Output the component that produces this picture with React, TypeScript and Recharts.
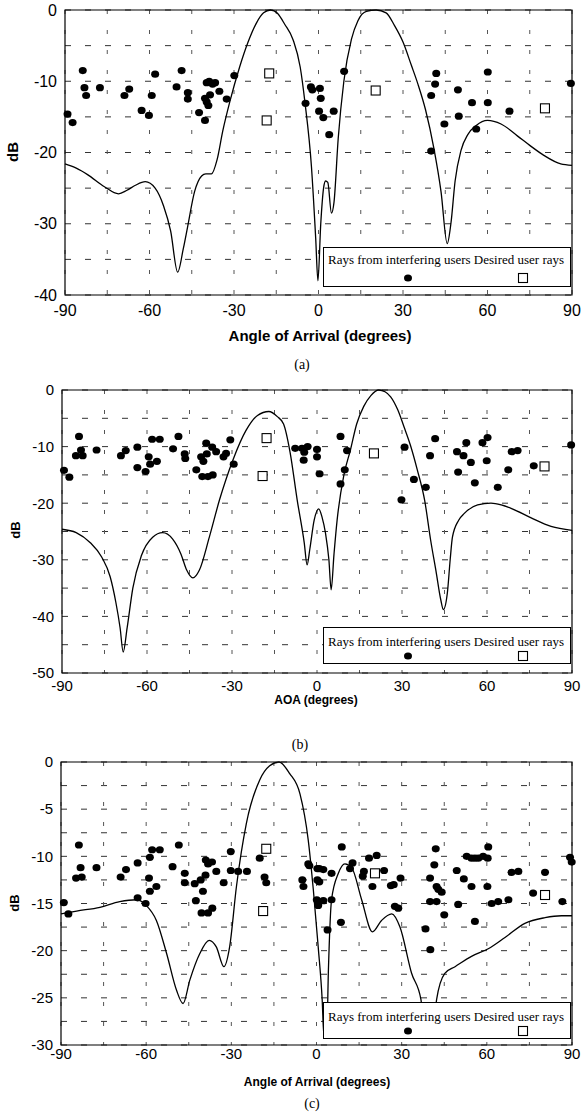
import {
  CartesianGrid,
  ComposedChart,
  Line,
  ReferenceArea,
  Scatter,
  XAxis,
  YAxis,
} from "recharts";

// beam patterns (angle in degrees, gain in dB)
const beamA = [
  [-90, -21.6], [-86, -22.2], [-82, -23.1], [-76, -24.8], [-71, -25.8], [-68, -25.3],
  [-65, -24.6], [-61.5, -24.1], [-58, -25], [-55, -27.5], [-52.5, -31], [-50, -36.8],
  [-48, -33.5], [-46.5, -30.5], [-44, -25.5], [-41.5, -23.3], [-40, -23], [-38, -23],
  [-36, -21], [-34, -17], [-31.5, -12.9], [-28, -8], [-25, -4.5], [-22, -1.8],
  [-19.5, -0.4], [-17, 0], [-14.5, -0.5], [-12, -2], [-9, -4.2], [-6.5, -8],
  [-4.8, -13], [-2.5, -22], [-1, -32], [-0.2, -38], [0.8, -30], [1.8, -25],
  [2.5, -24], [3.3, -24.2], [4.6, -28.5], [5.5, -27], [7, -18], [9, -10],
  [11.7, -4.1], [14, -1.5], [17, -0.2], [20.5, 0], [24, -0.4], [27, -2.2],
  [30, -4.5], [33, -7.8], [35.3, -10.4], [38, -14], [41, -19.5], [43.5, -25.5],
  [45.7, -32.8], [47, -30], [48.5, -24], [50.6, -19.7], [53, -17.5], [56, -16.2],
  [60, -15.5], [64.8, -16], [70.7, -17.7], [75, -19], [80, -20.4], [86, -21.6],
  [90, -21.8],
];

const beamB = [
  [-90, -24.6], [-85, -25.2], [-80, -27], [-76, -29.5], [-73, -33], [-71, -37.5],
  [-69.5, -42], [-68.4, -46.3], [-67, -42], [-65, -35], [-62, -29.3], [-58, -26],
  [-54.5, -25.2], [-51, -26.3], [-48, -29], [-46, -31.8], [-43.8, -33.2],
  [-41.5, -31.8], [-38, -26], [-34.4, -19.4], [-29.7, -12.4], [-25, -7.1],
  [-21, -4.5], [-17, -3.8], [-14, -4.7], [-11.8, -6], [-9.5, -11], [-7, -19.4],
  [-4.5, -27], [-3.5, -30.9], [-2.5, -28], [-1, -23], [0.6, -21], [1.8, -22.5],
  [3, -25.3], [4.2, -30], [5, -35.3], [6, -29], [7.1, -23], [9.5, -15],
  [11.8, -10.6], [14, -6], [16.5, -2.9], [19, -1], [21.8, 0], [24, -0.3],
  [26, -1.2], [28.5, -3.5], [30.7, -6.5], [33, -9.8], [35.4, -14.1], [38, -19.5],
  [40.1, -26.5], [42, -32], [43.7, -37.1], [44.6, -38.8], [46, -35.9], [47, -30],
  [47.8, -26], [50, -23], [52, -21.8], [56.7, -20.3], [61.4, -20], [65, -20.3],
  [68.5, -20.9], [75.6, -22.6], [82.6, -24.1], [90, -24.8],
];

const beamC = [
  [-90, -16.1], [-84.5, -15.8], [-76.3, -15.4], [-69.3, -14.8], [-63.4, -14.6],
  [-60, -15.2], [-56.4, -16.8], [-52.8, -20.3], [-49.3, -24.2], [-47, -25.6],
  [-44.6, -23.1], [-41.1, -20.3], [-37.8, -18.9], [-35.3, -19.6], [-32.6, -21.7],
  [-30.6, -19.6], [-28.2, -13.2], [-24.7, -6.5], [-20, -1.9], [-16.5, -0.4],
  [-13.2, 0], [-9.5, -1.2], [-5.8, -3.4], [-2.9, -8.3], [-1.1, -13.6],
  [0.6, -19.6], [2, -25.2], [2.6, -29], [3.6, -29], [4.2, -22], [5.3, -14.6],
  [7.7, -11.8], [10, -10.8], [12.4, -11.2], [15.9, -14.6], [19.7, -18],
  [22.9, -16.8], [26.5, -16.1], [29.4, -17.5], [33.5, -22.4], [36.8, -25.2],
  [38, -29], [41, -29], [42.3, -25.2], [45.2, -22.4], [48.8, -21.7],
  [54.6, -20.6], [60.5, -19.8], [66.4, -18.6], [73.4, -17.1], [80.5, -16.5],
  [86.3, -16.3], [90, -16.3],
];

// rays from interfering users
const raysA = [
  [-89.1, -14.6], [-87.3, -15.8], [-83.7, -8.5], [-83.1, -10.9], [-82.5, -12],
  [-77.6, -10.9], [-68.9, -12], [-67.2, -11.1], [-62.8, -14.1], [-60.2, -14.8],
  [-59.2, -12], [-58, -9], [-50.4, -10.8], [-48.6, -8.5], [-46.4, -11.6],
  [-46.4, -12.5], [-42.4, -14.4], [-40.3, -15.5], [-40.3, -12.4], [-39.7, -10.2],
  [-38.8, -10], [-39.7, -12.9], [-39.1, -13.4], [-38.5, -11.9], [-37.6, -10.4],
  [-36.7, -10.2], [-35.2, -11.4], [-32.6, -12.5], [-29.9, -9.2],
  [-4.6, -13.1], [-2.7, -10.8], [-2.2, -11.2], [0.5, -11], [0.8, -12.4],
  [0.2, -14.2], [1.7, -15.1], [3.8, -17.5], [5.4, -14.2], [9.1, -8.6],
  [40, -12], [41.4, -10.4], [41.8, -8.9], [40, -19.8], [44.7, -16], [49.5, -11.2],
  [49.8, -14.9], [54.5, -13], [56, -16.7], [60.1, -8.7], [60.1, -13],
  [67.8, -14.2], [89.6, -10.3],
];

const raysB = [
  [-89.3, -14.2], [-87.4, -15.4], [-84, -8.2], [-83.3, -10.6], [-85.1, -11.6],
  [-82.7, -11.6], [-77.8, -10.6], [-69.2, -11.6], [-67.5, -10.7], [-63.4, -10.1],
  [-63.4, -13.7], [-60.5, -14.4], [-59.4, -11.8], [-58.9, -13.1], [-58.2, -8.7],
  [-55.5, -8.7], [-56.5, -12.6], [-50.8, -10.4], [-48.9, -8.2], [-46.7, -11.3],
  [-46.5, -12.1], [-42.6, -14.1], [-40.9, -11.8], [-40.5, -15.3], [-40.1, -12.6],
  [-39.1, -9.4], [-38.9, -11.3], [-38.5, -15.3], [-37, -10.1], [-36.8, -15],
  [-35.6, -10.9], [-33, -11.8], [-32.1, -11.2], [-30.6, -8.8], [-29.4, -13.1],
  [-7.7, -10.3], [-5.3, -10.3], [-4.7, -12.4], [-4.5, -11], [-3.3, -10],
  [0, -10.5], [0, -11.8], [0.9, -14.8], [8.3, -8.2], [10.6, -10.7], [9.8, -14.1],
  [8.3, -16.6], [30.9, -10.1], [29.8, -19.4], [34.2, -15.8], [38.4, -17.2],
  [39.9, -11.6], [41.7, -8.6], [49.4, -10.9], [51.7, -11.6], [52.7, -9.3],
  [49.8, -14.5], [54.3, -12.8], [55.7, -16.4], [58.4, -9.3], [60.2, -8.4],
  [59.9, -12.5], [63.8, -17.2], [67.5, -14.1], [68.7, -10.9], [70.8, -10.7],
  [76.5, -13.4], [89.7, -9.7],
];

const raysC = [
  [-89, -14.9], [-87.4, -16.1], [-83.7, -8.8], [-83.1, -11.2], [-84.7, -12.3],
  [-82.7, -12.2], [-77.5, -11.2], [-69, -12.2], [-67.1, -11.4], [-63, -10.7],
  [-63, -14.4], [-60.2, -15], [-59, -12.3], [-58.7, -10.1], [-57.9, -9.3],
  [-58.7, -13.7], [-56.4, -13.2], [-55.2, -9.3], [-50.7, -11.1], [-48.5, -8.8],
  [-46.4, -11.8], [-46.4, -12.8], [-42.9, -12.9], [-42.5, -14.7], [-40.8, -12.5],
  [-40.5, -16], [-40, -13.7], [-39.1, -12], [-39, -10.4], [-38.2, -10.8],
  [-38.2, -16], [-36.8, -10.6], [-36.7, -15.5], [-35.3, -11.6], [-32.7, -12.8],
  [-30.2, -9.5], [-30.2, -11.5], [-27.6, -11.6], [-24.5, -11.6], [-20, -10.2],
  [-18.3, -12.2], [-17.7, -12.8],
  [-2.9, -10.8], [-2.5, -11], [-5, -12.5], [-4.6, -13.2], [0.3, -11.3], [1, -11.3],
  [2.4, -11.4], [0.3, -12.5], [1, -12.7], [0.1, -14.6], [0.6, -15.2], [2.4, -14.7],
  [5.3, -14.6], [5.3, -11.8], [3.9, -17.8], [8.9, -9], [8.6, -17], [11.8, -11.3],
  [12.7, -10.7], [16.3, -12.1], [16.7, -11.6], [18.5, -10.2], [21.2, -9.9],
  [19.7, -13.2], [23.8, -11.5], [26.2, -13.1], [27.2, -13], [27.6, -15.3],
  [28.8, -15.5], [29.6, -12.3], [38.4, -17.7], [40, -12.3], [40, -14.8],
  [40.1, -19.9], [41.5, -10.9], [42, -9.2], [42.3, -13.2], [42.9, -13.5],
  [44.1, -13.8], [42.3, -14.8], [45, -16.2], [49.4, -11.5], [49.9, -15.1],
  [51.9, -12.4], [52.9, -10], [54.6, -10.2], [55.8, -10.2], [57, -10.2],
  [58.7, -10], [60.5, -9], [60.3, -10.2], [54.6, -13.2], [55.8, -16.9],
  [60.2, -13.2], [61.7, -15], [64, -14.8], [67.6, -14.6], [68.7, -11.7],
  [71.1, -11.6], [76.3, -13.9], [80.5, -11.7], [86.6, -14.8], [89.3, -10.1],
  [89.9, -10.6],
];

// desired user rays
const desiredA = [[-17.5, -8.9], [-18.4, -15.5], [20.3, -11.3], [80.4, -13.8]];
const desiredB = [[-17.8, -8.5], [-19.2, -15.2], [20.1, -11.2], [80.3, -13.5]];
const desiredC = [[-17.7, -9.2], [-18.8, -15.8], [20.6, -11.8], [80.5, -14.1]];

const angleTicks = [-90, -75, -60, -45, -30, -15, 0, 15, 30, 45, 60, 75, 90];

const toPts = (arr: number[][]) => arr.map(([x, y]) => ({ x, y }));

const sans = "'Liberation Sans', Arial, sans-serif";
const serif = "'Liberation Serif', 'Times New Roman', serif";

const RayDot = (p: any) => (
  <ellipse cx={p.cx} cy={p.cy} rx={4} ry={3.6} fill="#000" />
);
const UserBox = (p: any) => (
  <rect x={p.cx - 4.5} y={p.cy - 4.5} width={9} height={9} fill="#fff" stroke="#000" strokeWidth={1.1} />
);

type PanelProps = {
  plotTop: number;
  plotBottom: number;
  plotLeft: number;
  yMin: number;
  yGrid: number;
  yLabelEvery: number;
  tickFont: number;
  xTickGap: number;
  beam: number[][];
  rays: number[][];
  desired: number[][];
  legendTop: number;
  legendHeight: number;
  legendTextY: number;
  legendMarkY: number;
};

function Panel(props: PanelProps) {
  const { plotTop, plotBottom, plotLeft, yMin, yGrid, yLabelEvery, tickFont } = props;
  const yTicks: number[] = [];
  for (let v = yMin; v <= 0.001; v += yGrid) yTicks.push(Math.round(v * 10) / 10);
  const height = plotBottom - plotTop + 10 + 30;
  return (
    <>
      <div style={{ position: "absolute", left: 0, top: plotTop - 10 }}>
        <ComposedChart
          width={585}
          height={height}
          margin={{ top: 10, right: 13, bottom: 0, left: 0 }}
        >
          <CartesianGrid vertical={false} stroke="#333" strokeDasharray="6 14" />
          <CartesianGrid horizontal={false} stroke="#555" strokeDasharray="4 16" />
          <XAxis
            type="number"
            dataKey="x"
            domain={[-90, 90]}
            ticks={angleTicks}
            interval={0}
            height={30}
            axisLine={false}
            tickLine={false}
            tickSize={2}
            tickMargin={props.xTickGap}
            tickFormatter={(v: number) => (v % 30 === 0 ? String(v) : "")}
            tick={{ fontSize: tickFont, fill: "#000", fontFamily: sans }}
          />
          <YAxis
            type="number"
            dataKey="y"
            domain={[yMin, 0]}
            ticks={yTicks}
            interval={0}
            width={plotLeft}
            axisLine={false}
            tickLine={false}
            tickSize={4}
            tickMargin={4}
            tickFormatter={(v: number) => (Math.abs(v % yLabelEvery) < 0.01 ? String(v) : "")}
            tick={{ fontSize: tickFont, fill: "#000", fontFamily: sans }}
          />
          <Line
            data={toPts(props.beam)}
            dataKey="y"
            type="monotone"
            dot={false}
            stroke="#000"
            strokeWidth={1.3}
            isAnimationActive={false}
          />
          <Scatter data={toPts(props.rays)} dataKey="y" shape={RayDot} isAnimationActive={false} />
          <Scatter data={toPts(props.desired)} dataKey="y" shape={UserBox} isAnimationActive={false} />
          <ReferenceArea
            x1={-90}
            x2={90}
            y1={yMin}
            y2={0}
            fill="none"
            stroke="#000"
            strokeWidth={1.2}
            ifOverflow="visible"
          />
        </ComposedChart>
      </div>
      <div
        style={{
          position: "absolute",
          left: 323,
          top: props.legendTop,
          width: 248,
          height: props.legendHeight,
          border: "1px solid #000",
          background: "#fff",
          boxSizing: "border-box",
          fontFamily: serif,
          fontSize: 13,
          color: "#000",
        }}
      >
        <div style={{ position: "absolute", left: 4, top: props.legendTextY - 8, whiteSpace: "nowrap" }}>
          Rays from interfering users Desired user rays
        </div>
        <svg
          style={{ position: "absolute", left: 0, top: 0 }}
          width={248}
          height={props.legendHeight}
        >
          <ellipse cx={84} cy={props.legendMarkY} rx={4} ry={3.6} fill="#000" />
          <rect x={194.5} y={props.legendMarkY - 4.5} width={9} height={9} fill="#fff" stroke="#000" strokeWidth={1.1} />
        </svg>
      </div>
    </>
  );
}

function Caption(props: { x: number; y: number; text: string; size: number; bold?: boolean; font?: string; rotate?: boolean }) {
  return (
    <div
      style={{
        position: "absolute",
        left: props.x,
        top: props.y,
        transform: `translate(-50%, -50%)${props.rotate ? " rotate(-90deg)" : ""}`,
        whiteSpace: "nowrap",
        fontFamily: props.font || sans,
        fontSize: props.size,
        fontWeight: props.bold ? 700 : 400,
        lineHeight: 1,
        color: "#000",
      }}
    >
      {props.text}
    </div>
  );
}

export default function App() {
  return (
    <div style={{ position: "absolute", left: 0, top: 0, width: 585, height: 1116, background: "#fff" }}>
      <Panel
        plotTop={10}
        plotBottom={295}
        plotLeft={65}
        yMin={-40}
        yGrid={5}
        yLabelEvery={10}
        tickFont={16}
        xTickGap={8}
        beam={beamA}
        rays={raysA}
        desired={desiredA}
        legendTop={247}
        legendHeight={40}
        legendTextY={12}
        legendMarkY={30}
      />
      <Caption x={12} y={152} text="dB" size={15} bold rotate />
      <Caption x={320} y={335} text="Angle of Arrival (degrees)" size={15} bold />
      <Caption x={302} y={365} text="(a)" size={14} font={serif} />

      <Panel
        plotTop={390}
        plotBottom={673}
        plotLeft={62}
        yMin={-50}
        yGrid={5}
        yLabelEvery={10}
        tickFont={15}
        xTickGap={5}
        beam={beamB}
        rays={raysB}
        desired={desiredB}
        legendTop={627}
        legendHeight={37}
        legendTextY={14}
        legendMarkY={28}
      />
      <Caption x={15} y={530} text="dB" size={13} bold rotate />
      <Caption x={316} y={700} text="AOA (degrees)" size={12} bold />
      <Caption x={300} y={745} text="(b)" size={14} font={serif} />

      <Panel
        plotTop={762}
        plotBottom={1045}
        plotLeft={61}
        yMin={-30}
        yGrid={2.5}
        yLabelEvery={5}
        tickFont={15}
        xTickGap={1}
        beam={beamC}
        rays={raysC}
        desired={desiredC}
        legendTop={1002}
        legendHeight={37}
        legendTextY={14}
        legendMarkY={28}
      />
      <Caption x={14} y={903} text="dB" size={13} bold rotate />
      <Caption x={317} y={1082} text="Angle of Arrival (degrees)" size={12} bold />
      <Caption x={312} y={1104} text="(c)" size={14} font={serif} />
    </div>
  );
}
